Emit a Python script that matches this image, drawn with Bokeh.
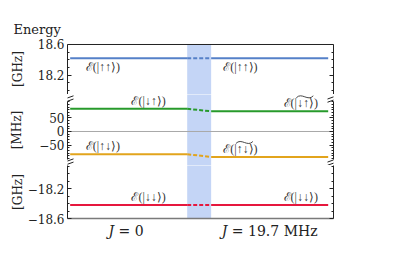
from bokeh.plotting import figure
from bokeh.layouts import column
from bokeh.models import Range1d, LinearAxis, FixedTicker
from bokeh.core.properties import value
from bokeh.embed import file_html
from bokeh.resources import INLINE

# ---------------- data ----------------
state_labels_J0 = ["ℰ(|↑↑⟩)", "ℰ(|↓↑⟩)", "ℰ(|↑↓⟩)", "ℰ(|↓↓⟩)"]
state_labels_J = ["ℰ(|↑↑⟩)", "ℰ(|↓↑⟩)", "ℰ(|↑↓⟩)", "ℰ(|↓↓⟩)"]
state_dressed = [False, True, True, False]     # wide tilde over the dressed states
energy_J0 = [18.42, 84.0, -84.0, -18.42]      # GHz, MHz, MHz, GHz
energy_J = [18.42, 74.7, -94.4, -18.42]       # GHz, MHz, MHz, GHz
state_panel = [0, 1, 1, 2]
state_colors = ["#5580c8", "#279a2b", "#e2a41c", "#e6173d"]

x_tick_labels = ["𝐽 = 0", "𝐽 = 19.7 MHz"]
panel_units = ["[GHz]", "[MHz]", "[GHz]"]
panel_ranges = [(17.946, 18.613), (-125.9, 137.0), (-18.6, -17.893)]
panel_bounds = [(17.946, 18.6), (-104, 111), (-18.6, -17.893)]
panel_major = [[18.2, 18.6], [-50, 0, 50], [-18.6, -18.2]]
panel_minor = [[18.0, 18.1, 18.3, 18.4, 18.5],
               [-100, -90, -80, -70, -60, -40, -30, -20, -10, 10, 20, 30, 40, 60, 70, 80, 90, 100, 110],
               [-18.5, -18.4, -18.3, -18.1, -18.0, -17.9]]
panel_tick_text = [{18.2: "18.2", 18.6: "18.6"},
                   {-50: "−50", 0: "0", 50: "50"},
                   {-18.6: "−18.6", -18.2: "−18.2"}]

# ---------------- layout constants ----------------
SERIF = "DejaVu Serif"
LAB_FONT = "Liberation Serif"
X0, X1 = 0.0, 10.0
FW = 266
BL, BR = 67, 10
# (border top, frame height, border bottom)
borders = [(43, 51, 0), (0, 71, 0), (0, 53, 30)]
label_standoff = [10, 12, 0]
XL = (0.1, 4.5)     # J = 0 segment
XR = (5.4, 9.8)     # J = 19.7 MHz segment
x_tick_pos = [2.2, 7.6]
lab_x_J0 = [1.33, 3.05, 1.33, 3.05]
lab_x_J = [6.5, 8.77, 6.5, 8.77]
lab_above = [False, True, True, True]
AX = "#222222"
BAND = "#c4d5f6"

x_range = Range1d(X0, X1)
dx = (X1 - X0) / FW                       # data per px (x)
figs = []
for i in range(3):
    bt, fh, bb = borders[i]
    p = figure(frame_width=FW, frame_height=fh, x_range=x_range,
               y_range=Range1d(*panel_ranges[i]),
               output_backend="svg", toolbar_location=None,
               x_axis_location=None, y_axis_location=None,
               min_border_left=BL, min_border_right=BR,
               min_border_top=bt, min_border_bottom=bb,
               outline_line_color=None, border_fill_color=None,
               background_fill_color=None)
    p.grid.visible = False

    ax = LinearAxis(ticker=FixedTicker(ticks=panel_major[i], minor_ticks=panel_minor[i]),
                    axis_label=panel_units[i], bounds=panel_bounds[i],
                    major_label_overrides=panel_tick_text[i],
                    major_tick_in=4, major_tick_out=0,
                    minor_tick_in=2, minor_tick_out=0,
                    major_label_standoff=3, axis_label_standoff=label_standoff[i],
                    axis_label_text_font=SERIF, axis_label_text_font_size="12px",
                    axis_label_text_font_style="normal", axis_label_text_color=AX,
                    major_label_text_font=SERIF, major_label_text_font_size="12px",
                    major_label_text_color=AX,
                    axis_line_color=AX, major_tick_line_color=AX,
                    minor_tick_line_color=AX)
    p.add_layout(ax, "left")
    axr = LinearAxis(ticker=FixedTicker(ticks=panel_major[i], minor_ticks=panel_minor[i]),
                     bounds=panel_bounds[i],
                     major_label_overrides={t: "" for t in panel_major[i]},
                     major_tick_in=4, major_tick_out=0,
                     minor_tick_in=2, minor_tick_out=0,
                     major_label_standoff=0,
                     axis_line_color=AX, major_tick_line_color=AX,
                     minor_tick_line_color=AX)
    p.add_layout(axr, "right")

    # shaded switching window (spans the whole panel height)
    r0, r1 = panel_ranges[i]
    pad = (r1 - r0) * 0.05
    band_top = panel_bounds[0][1] if i == 0 else r1 + pad
    p.quad(left=[XL[1]], right=[XR[0]], bottom=[r0 - pad], top=[band_top],
           fill_color=BAND, line_color=None, level="underlay")
    figs.append(p)

# top border line
figs[0].line([X0, X1], [panel_bounds[0][1]] * 2, line_color=AX, line_width=1)

# title
t = figs[0].title
t.text = "Energy"
t.align = "left"
t.offset = -(BL - 13)
t.text_font = SERIF
t.text_font_size = "13px"
t.text_font_style = "normal"
t.text_color = AX
t.standoff = 13

# zero line in the MHz panel
figs[1].line([X0, X1], [0, 0], line_color="#a8a8a8", line_width=1)

# broken-axis marks (the MHz panel spans the gaps): two short slanted strokes
mid = figs[1]
yb_lo, yb_hi = panel_bounds[1]
dy = (panel_ranges[1][1] - panel_ranges[1][0]) / borders[1][1]   # data per px (y)
x0s, y0s, x1s, y1s = [], [], [], []
for cx in (X0 + 1.5 * dx, X1 - 1.5 * dx):
    for cy in (yb_hi + 2.5 * dy, yb_lo - 2.5 * dy):
        for sh in (-1.6, 1.6):
            x0s.append(cx - 4.5 * dx); y0s.append(cy + (sh - 1.6) * dy)
            x1s.append(cx + 4.5 * dx); y1s.append(cy + (sh + 1.6) * dy)
mid.segment(x0=x0s, y0=y0s, x1=x1s, y1=y1s, line_color=AX, line_width=1)

# bottom x axis with the two J labels
xax = LinearAxis(ticker=FixedTicker(ticks=x_tick_pos, minor_ticks=[]),
                 major_label_overrides=dict(zip(x_tick_pos, x_tick_labels)),
                 major_tick_in=0, major_tick_out=0, major_label_standoff=4,
                 major_label_text_font=SERIF, major_label_text_font_size="14px",
                 major_label_text_color=AX,
                 axis_line_color="#7a7a7a", axis_line_width=1.5)
figs[2].add_layout(xax, "below")

# energy levels
for k in range(4):
    p = figs[state_panel[k]]
    c = state_colors[k]
    y0, y1 = energy_J0[k], energy_J[k]
    p.line([XL[0], XL[1]], [y0, y0], line_color=c, line_width=2)
    p.line([XR[0], XR[1]], [y1, y1], line_color=c, line_width=2)
    p.line([XL[1], XR[0]], [y0, y1], line_color=c, line_width=2, line_dash="4 2")
    off = -8 if lab_above[k] else 8.5
    p.text(x=[lab_x_J0[k], lab_x_J[k]], y=[y0, y1],
           text=[state_labels_J0[k], state_labels_J[k]],
           text_align="center", text_baseline="middle", y_offset=off,
           text_font=value(LAB_FONT), text_font_size="12px", text_color="#333333")
    if state_dressed[k]:
        # wide tilde over the two arrows (a smooth S-curve)
        tx = lab_x_J[k] + 4 * dx
        ty = y1 + 14.5 * dy
        p.bezier(x0=[tx - 8.5 * dx], y0=[ty - 1.0 * dy],
                 x1=[tx + 8.5 * dx], y1=[ty + 1.0 * dy],
                 cx0=[tx - 3 * dx], cy0=[ty + 5 * dy],
                 cx1=[tx + 3 * dx], cy1=[ty - 5 * dy],
                 line_color="#333333", line_width=0.9)

layout = column(*figs, spacing=0)
open("out.html", "w").write(file_html(layout, INLINE))
